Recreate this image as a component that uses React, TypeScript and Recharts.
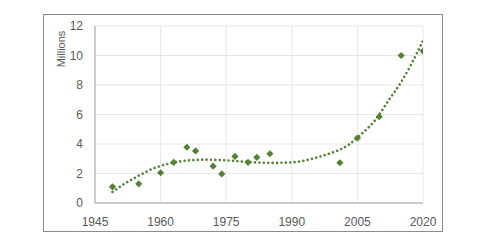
import { ComposedChart, Scatter, Line, XAxis, YAxis, CartesianGrid, Label } from 'recharts';

// observed values (millions)
const years = [1949, 1955, 1960, 1963, 1966, 1968, 1972, 1974, 1977, 1980, 1982, 1985, 2001, 2005, 2010, 2015, 2020];
const values = [1.1, 1.3, 2.05, 2.76, 3.78, 3.53, 2.5, 1.97, 3.16, 2.76, 3.1, 3.34, 2.73, 4.4, 5.85, 10.0, 10.3];

// trendline
const trendYears = [1949, 1952, 1955, 1958, 1961, 1964, 1967, 1970, 1973, 1976, 1979, 1982, 1985, 1988, 1991, 1994, 1997, 2000, 2003, 2006, 2009, 2012, 2015, 2018, 2020];
const trendValues = [0.75, 1.35, 1.85, 2.3, 2.6, 2.8, 2.9, 2.94, 2.92, 2.87, 2.8, 2.75, 2.72, 2.73, 2.78, 2.95, 3.2, 3.5, 3.95, 4.7, 5.6, 6.9, 8.2, 9.8, 11.0];

const xTicks = [1945, 1960, 1975, 1990, 2005, 2020];
const yTicks = [0, 2, 4, 6, 8, 10, 12];

const points = years.map((year, i) => ({ year, value: values[i] }));
const trend = trendYears.map((year, i) => ({ year, trend: trendValues[i] }));

const GREEN = '#548235';
const FONT = '"Liberation Sans", Arial, sans-serif';

function Diamond(props: { cx?: number; cy?: number }) {
  const { cx = 0, cy = 0 } = props;
  const r = 3.6;
  return (
    <path
      d={`M${cx},${cy - r}L${cx + r},${cy}L${cx},${cy + r}L${cx - r},${cy}Z`}
      fill={GREEN}
    />
  );
}

export default function App() {
  return (
    <div style={{ position: 'fixed', left: 0, top: 0, width: 487, height: 246, background: '#fff' }}>
      <div
        style={{
          position: 'absolute', left: 43, top: 14, width: 400, height: 218,
          border: '1.5px solid #8c8c8c', boxSizing: 'border-box',
        }}
      />
      <div style={{ position: 'absolute', left: 0, top: 0 }}>
        <ComposedChart width={487} height={246} margin={{ top: 26, right: 64, bottom: 13, left: 0 }}>
          <CartesianGrid stroke="#e6e6e6" strokeWidth={1} />
          <XAxis
            dataKey="year"
            type="number"
            domain={[1945, 2020]}
            ticks={xTicks}
            allowDataOverflow
            height={30}
            axisLine={{ stroke: '#bfbfbf', strokeWidth: 1.5 }}
            tickLine={false}
            tick={{ fill: '#595959', fontSize: 12, fontFamily: FONT }}
            tickMargin={8}
          />
          <YAxis
            type="number"
            domain={[0, 12]}
            ticks={yTicks}
            width={95}
            axisLine={{ stroke: '#bfbfbf', strokeWidth: 1.5 }}
            tickLine={false}
            tick={{ fill: '#595959', fontSize: 12, fontFamily: FONT }}
            tickMargin={6}
          >
            <Label
              content={() => (
                <text
                  x={61}
                  y={49}
                  transform="rotate(-90 61 49)"
                  textAnchor="middle"
                  dominantBaseline="central"
                  fill="#595959"
                  fontSize={11}
                  fontFamily={FONT}
                >
                  Millions
                </text>
              )}
            />
          </YAxis>
          <Scatter data={points} dataKey="value" shape={<Diamond />} isAnimationActive={false} />
          <Line
            data={trend}
            dataKey="trend"
            type="natural"
            stroke={GREEN}
            strokeWidth={2.6}
            strokeDasharray="0.01 4.4"
            strokeLinecap="round"
            dot={false}
            activeDot={false}
            isAnimationActive={false}
          />
        </ComposedChart>
      </div>
    </div>
  );
}
